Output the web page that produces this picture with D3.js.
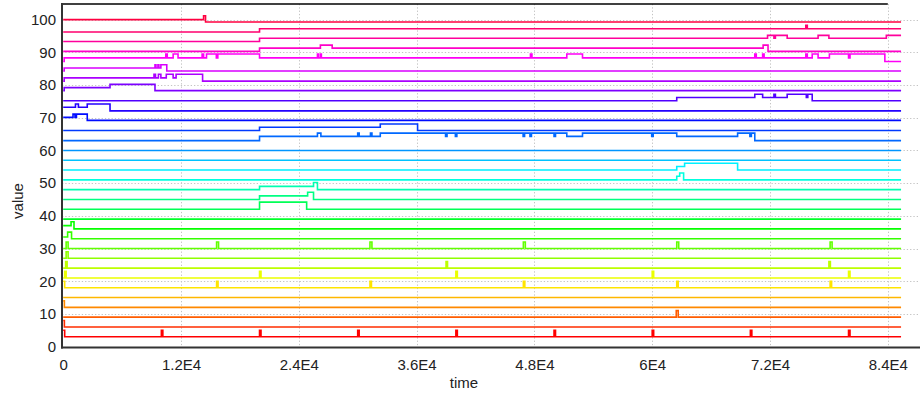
<!DOCTYPE html>
<html>
<head>
<meta charset="utf-8">
<script src="https://cdn.jsdelivr.net/npm/d3@7"></script>
<style>
  body { margin: 0; background: #fff; }
  text { font-family: "Liberation Sans", Arial, sans-serif; }
</style>
</head>
<body>
<script>
// chart size
const width = 920;
const height = 394;

// axis ticks
const xTicks = [0, 12000, 24000, 36000, 48000, 60000, 72000, 84000];
const xTickLabels = ['0', '1.2E4', '2.4E4', '3.6E4', '4.8E4', '6E4', '7.2E4', '8.4E4'];
const yTicks = [0, 10, 20, 30, 40, 50, 60, 70, 80, 90, 100];
const tEnd = 85350; // last sample time

// one step signal per row, [time, value], bottom (red) to top (pink)
const sig00 = [[0,5],[150,3],[10000,5],[10150,3],[20000,5],[20150,3],[30000,5],[30150,3],[40000,5],[40150,3],
               [50000,5],[50150,3],[60000,5],[60150,3],[70000,5],[70150,3],[80000,5],[80150,3]];
const sig01 = [[0,8],[120,6]];
const sig02 = [[0,9],[62450,11],[62650,9]];
const sig03 = [[0,14],[120,12]];
const sig04 = [[0,15]];
const sig05 = [[0,20],[150,18],[15625,20],[15775,18],[31250,20],[31400,18],[46875,20],[47025,18],
               [62500,20],[62650,18],[78125,20],[78275,18]];
const sig06 = [[0,21],[150,23],[300,21],[20000,23],[20150,21],[40000,23],[40150,21],[60000,23],[60150,21],
               [80000,23],[80150,21]];
const sig07 = [[0,24],[250,26],[400,24],[39000,26],[39150,24],[78000,26],[78150,24]];
const sig08 = [[0,27],[300,29],[500,27]];
const sig09 = [[0,30],[300,32],[500,30],[15625,32],[15825,30],[31250,32],[31450,30],[46875,32],[47075,30],
               [62500,32],[62700,30],[78125,32],[78325,30]];
const sig10 = [[0,33.5],[450,35],[850,33]];
const sig11 = [[0,37],[800,38.2],[1100,36]];
const sig12 = [[0,39]];
const sig13 = [[0,42],[20000,44.2],[24800,42]];
const sig14 = [[0,45],[20000,46.1],[24900,47.2],[25500,45]];
const sig15 = [[0,48],[20000,49],[25500,50.2],[25900,48]];
const sig16 = [[0,51],[62500,52.1],[62800,53.1],[63200,51]];
const sig17 = [[0,54],[62500,55.1],[63300,56.1],[68700,54]];
const sig18 = [[0,57]];
const sig19 = [[0,60]];
const sig20 = [[0,63],[20000,64.3],[25900,65.3],[26250,64.3],[30000,65.3],[30150,64.3],[31300,65.3],[31450,64.3],
               [32300,65.3],[38950,64.3],[39100,65.3],[39950,64.3],[40100,65.3],[46850,64.3],[47000,65.3],
               [47550,64.3],[47700,65.3],[50000,64.3],[50150,65.3],[51300,64.3],[52900,65.3],[59950,64.3],
               [60100,65.3],[62500,64.3],[68700,65.3],[69950,64.3],[70100,65.3],[70450,63]];
const sig21 = [[0,66.1],[20000,67.1],[32300,68.1],[36100,66.1]];
const sig22 = [[0,70.1],[1000,71.1],[1200,70.1],[1350,71.1],[2450,69.2]];
const sig23 = [[0,73.2],[1250,74.2],[1550,73.2],[2450,74.2],[4770,72.1]];
const sig24 = [[0,75.2],[62500,76.2],[70450,77.2],[71250,76.2],[72400,77.2],[72550,76.2],[73750,77.2],
               [75700,76.2],[75850,77.2],[76300,75.2]];
const sig25 = [[0,78.3],[100,79.2],[4770,80.2],[9350,78.3]];
const sig26 = [[0,81.2],[100,82.2],[9250,83.3],[9400,82.2],[9700,83.3],[9950,82.2],[10500,83.3],[11200,82.2],
               [11500,83.3],[14200,81.2]];
const sig27 = [[0,84.3],[100,85.2],[9350,86.2],[9450,85.2],[9650,86.2],[9750,85.2],[9950,86.2],[10550,84.3]];
const sig28 = [[0,87.2],[100,88.3],[10450,89.5],[10600,88.3],[11200,89.5],[11700,88.3],[14150,89.5],[14300,88.3],
               [14600,89.5],[15600,88.3],[15750,89.5],[20000,88.3],[25900,89.5],[26000,88.3],[26200,89.5],
               [26300,88.3],[47600,89.5],[47750,88.3],[51300,89.5],[52900,88.3],[70450,89.5],[70600,88.3],
               [71250,89.5],[71400,88.3],[75650,89.5],[75800,88.3],[76300,89.5],[76900,88.3],[78050,89.5],
               [80000,88.3],[80150,89.5],[83700,87.2]];
const sig29 = [[0,90.3],[20000,91.3],[26200,92.2],[27400,91.3],[71300,92.2],[71800,90.3]];
const sig30 = [[0,93.3],[20000,94.3],[71750,95.2],[72400,94.3],[72550,95.2],[73750,94.3],[76900,95.2],
               [78000,94.3],[83850,95.2]];
const sig31 = [[0,96.2],[20000,97.2],[75650,98.3],[75800,97.2]];
const sig32 = [[0,100],[14300,101.2],[14500,99.3]];

const signals = [sig00, sig01, sig02, sig03, sig04, sig05, sig06, sig07, sig08, sig09, sig10,
                 sig11, sig12, sig13, sig14, sig15, sig16, sig17, sig18, sig19, sig20, sig21,
                 sig22, sig23, sig24, sig25, sig26, sig27, sig28, sig29, sig30, sig31, sig32];

const svg = d3.select('body')
    .append('svg')
    .attr('width', width)
    .attr('height', height);

const xScale = d3.scaleLinear().domain([0, 87280]).range([63.2, 920]);
const yScale = d3.scaleLinear().domain([0, 105]).range([346.6, 3.3]);
const axisX = 62;
const plotTop = 4;
const plotBottom = 347.5;

// dotted grid
const grid = svg.append('g').attr('stroke', '#c4c4c4').attr('stroke-width', 1)
    .attr('stroke-dasharray', '1.3,2');
grid.selectAll('.hg').data(yTicks.slice(1)).enter().append('line')
    .attr('x1', axisX).attr('x2', width)
    .attr('y1', d => Math.round(yScale(d)) + 0.5).attr('y2', d => Math.round(yScale(d)) + 0.5);
grid.selectAll('.vg').data(xTicks.slice(1)).enter().append('line')
    .attr('y1', plotTop).attr('y2', plotBottom)
    .attr('x1', d => Math.round(xScale(d)) + 0.5).attr('x2', d => Math.round(xScale(d)) + 0.5);

// top frame line, stops at last tick
svg.append('line')
    .attr('x1', axisX).attr('x2', xScale(84000))
    .attr('y1', plotTop).attr('y2', plotTop)
    .attr('stroke', '#000').attr('stroke-width', 1.5);

// signals
const line = d3.line()
    .x(d => xScale(d[0]))
    .y(d => yScale(d[1]))
    .curve(d3.curveStepAfter);

svg.append('g').selectAll('path')
    .data(signals)
    .enter()
    .append('path')
    .attr('fill', 'none')
    .attr('stroke-width', 1.6)
    .attr('stroke', (d, i) => d3.hsl(i * 10.78, 1, 0.5).toString())
    .attr('d', d => line(d.concat([[tEnd, d[d.length - 1][1]]])));

// axes
const xAxis = d3.axisBottom(xScale).tickValues(xTicks)
    .tickFormat((d, i) => xTickLabels[i]).tickSize(0).tickPadding(12);
const gx = svg.append('g')
    .attr('transform', `translate(0,${plotBottom})`)
    .call(xAxis);
gx.select('.domain').remove();
gx.selectAll('text').style('font-size', '15px').attr('fill', '#222');
svg.append('line')
    .attr('x1', axisX - 1).attr('x2', width)
    .attr('y1', plotBottom).attr('y2', plotBottom)
    .attr('stroke', '#333').attr('stroke-width', 2);

const yAxis = d3.axisLeft(yScale).tickValues(yTicks).tickSize(0).tickPadding(6);
const gy = svg.append('g')
    .attr('transform', `translate(${axisX},0)`)
    .call(yAxis);
gy.select('.domain').remove();
gy.selectAll('text').style('font-size', '15px').attr('fill', '#222');
svg.append('line')
    .attr('x1', axisX).attr('x2', axisX)
    .attr('y1', plotTop - 1).attr('y2', plotBottom + 1)
    .attr('stroke', '#333').attr('stroke-width', 2);

// axis titles
svg.append('text')
    .attr('x', 464).attr('y', 388)
    .attr('text-anchor', 'middle')
    .style('font-size', '15px').attr('fill', '#222')
    .text('time');
svg.append('text')
    .attr('transform', 'translate(23,201) rotate(-90)')
    .attr('text-anchor', 'middle')
    .style('font-size', '15px').attr('fill', '#222')
    .text('value');
</script>
</body>
</html>
